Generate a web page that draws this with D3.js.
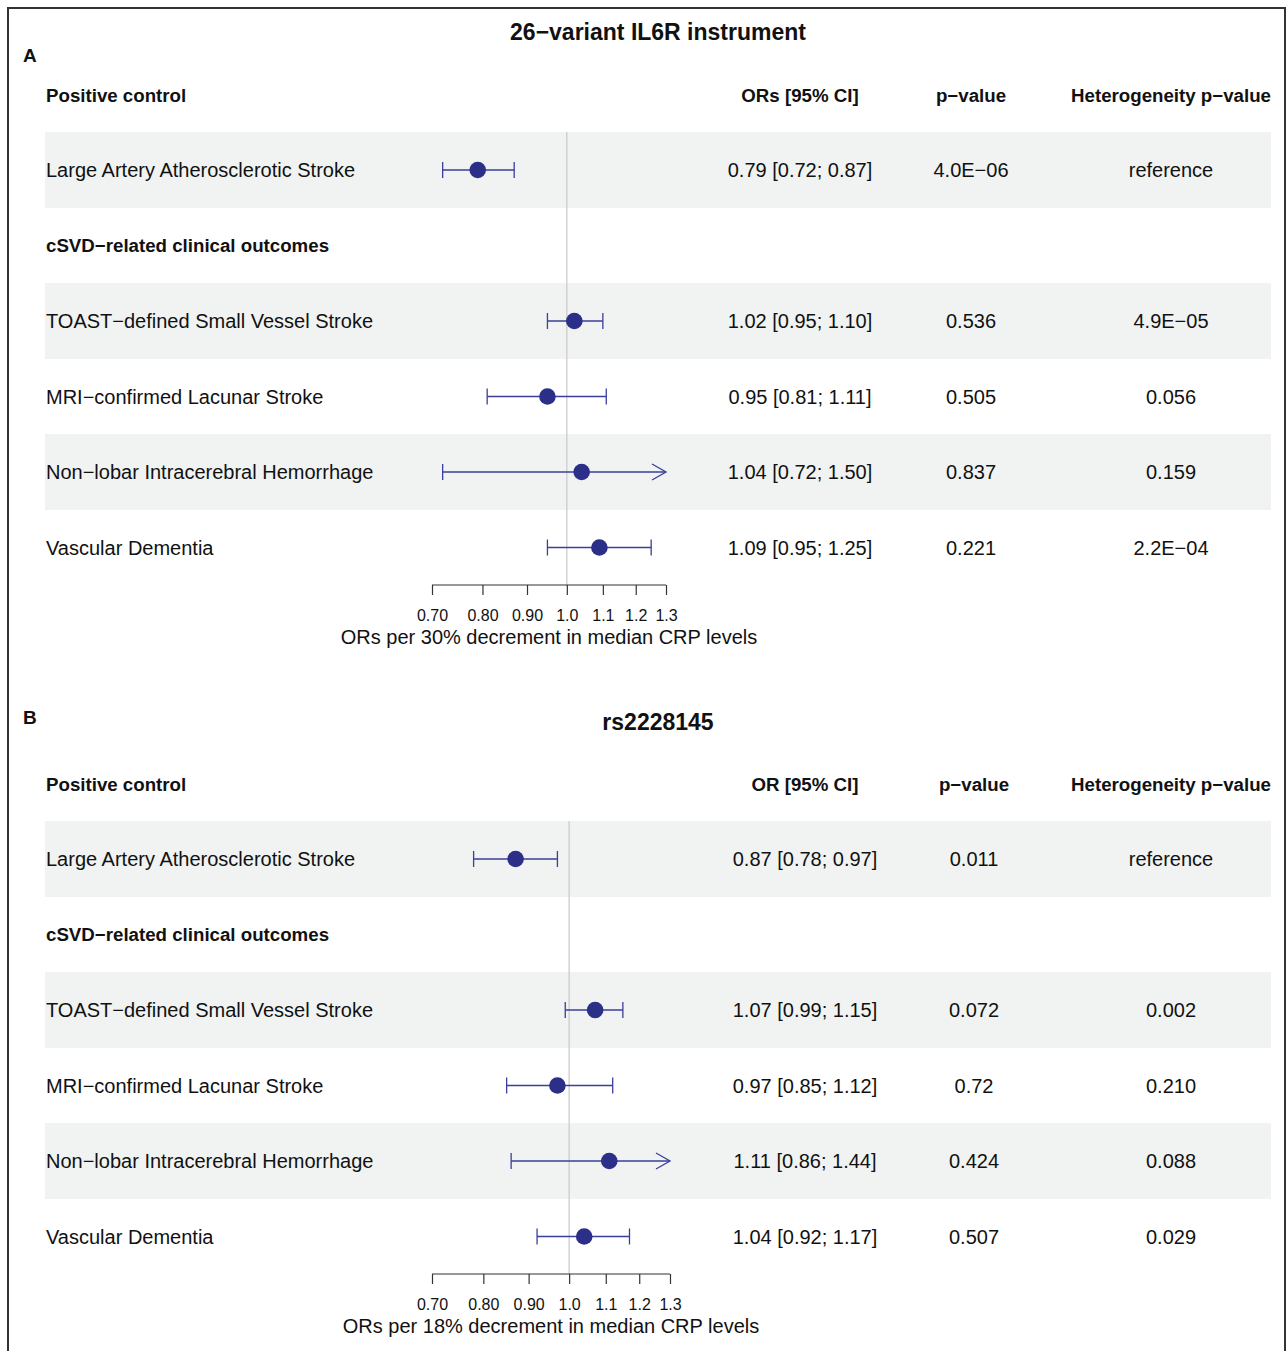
<!DOCTYPE html>
<html>
<head>
<meta charset="utf-8">
<script src="https://cdn.jsdelivr.net/npm/d3@7"></script>
<style>
  html, body { margin: 0; padding: 0; background: #fff; }
  svg text { font-family: "Liberation Sans", Arial, Helvetica, sans-serif; fill: #111; }
</style>
</head>
<body>
<script>
// Outcomes listed in each forest plot (heading rows carry no estimate)
const rowLabels = [
  "Large Artery Atherosclerotic Stroke",
  "cSVD\u2212related clinical outcomes",
  "TOAST\u2212defined Small Vessel Stroke",
  "MRI\u2212confirmed Lacunar Stroke",
  "Non\u2212lobar Intracerebral Hemorrhage",
  "Vascular Dementia"
];
const rowIsHeading = [false, true, false, false, false, false];

// Panel A: 26-variant IL6R instrument
const orA   = [0.79, null, 1.02, 0.95, 1.04, 1.09];
const loA   = [0.72, null, 0.95, 0.81, 0.72, 0.95];
const hiA   = [0.87, null, 1.10, 1.11, 1.50, 1.25];
const pA    = ["4.0E\u221206", "", "0.536", "0.505", "0.837", "0.221"];
const hetA  = ["reference", "", "4.9E\u221205", "0.056", "0.159", "2.2E\u221204"];

// Panel B: rs2228145
const orB   = [0.87, null, 1.07, 0.97, 1.11, 1.04];
const loB   = [0.78, null, 0.99, 0.85, 0.86, 0.92];
const hiB   = [0.97, null, 1.15, 1.12, 1.44, 1.17];
const pB    = ["0.011", "", "0.072", "0.72", "0.424", "0.507"];
const hetB  = ["reference", "", "0.002", "0.210", "0.088", "0.029"];

const tickValues = [0.70, 0.80, 0.90, 1.0, 1.1, 1.2, 1.3];
const tickLabels = ["0.70", "0.80", "0.90", "1.0", "1.1", "1.2", "1.3"];

const W = 1287, H = 1351;
const svg = d3.select("body").append("svg").attr("width", W).attr("height", H);

// outer frame
svg.append("rect").attr("x", 8).attr("y", 8).attr("width", 1277).attr("height", H + 10)
  .attr("fill", "none").attr("stroke", "#333").attr("stroke-width", 2);

const markColor = "#2b2f87";
const lineColor = "#3a3f9a";
const fmt = v => v.toFixed(2);
const fsBody = "20px", fsBold = "18.7px";

function drawPanel(cfg) {
  const g = svg.append("g").attr("transform", `translate(0,${cfg.offset})`);
  const x = d3.scaleLog().domain([0.70, 1.3]).range([432, cfg.axisRight]);
  const rowY = d3.scalePoint().domain(d3.range(rowLabels.length)).range([170, 170 + 75.5 * 5]);
  const bandH = 76;

  // title and panel letter
  g.append("text").attr("x", 658).attr("y", cfg.titleY).attr("text-anchor", "middle")
    .attr("dominant-baseline", "central").style("font-weight", "bold").style("font-size", "23px")
    .text(cfg.title);
  g.append("text").attr("x", cfg.letterX).attr("y", cfg.letterY)
    .attr("dominant-baseline", "central").style("font-weight", "bold").style("font-size", "19px")
    .text(cfg.letter);

  // column headers
  const hdr = g.append("g").style("font-weight", "bold").style("font-size", fsBold);
  hdr.append("text").attr("x", 46).attr("y", 95).attr("dominant-baseline", "central").text("Positive control");
  hdr.append("text").attr("x", cfg.orX).attr("y", 95).attr("text-anchor", "middle").attr("dominant-baseline", "central").text(cfg.orHeader);
  hdr.append("text").attr("x", cfg.pX).attr("y", 95).attr("text-anchor", "middle").attr("dominant-baseline", "central").text("p\u2212value");
  hdr.append("text").attr("x", 1171).attr("y", 95).attr("text-anchor", "middle").attr("dominant-baseline", "central").text("Heterogeneity p\u2212value");

  // shaded bands on alternating rows
  [0, 2, 4].forEach(i => {
    g.append("rect").attr("x", 45).attr("y", rowY(i) - bandH / 2).attr("width", 1226).attr("height", bandH)
      .attr("fill", "#f0f3f2");
  });

  // reference line at OR = 1
  g.append("line").attr("x1", x(1)).attr("x2", x(1))
    .attr("y1", rowY(0) - bandH / 2).attr("y2", 585)
    .attr("stroke", "#c8c8c8").attr("stroke-width", 1.2);

  // row labels and table cells
  rowLabels.forEach((lab, i) => {
    g.append("text").attr("x", 46).attr("y", rowY(i)).attr("dominant-baseline", "central")
      .style("font-size", rowIsHeading[i] ? fsBold : fsBody)
      .style("font-weight", rowIsHeading[i] ? "bold" : "normal")
      .text(lab);
    if (rowIsHeading[i]) return;
    const cells = [
      [cfg.orX, `${fmt(cfg.or[i])} [${fmt(cfg.lo[i])}; ${fmt(cfg.hi[i])}]`],
      [cfg.pX, cfg.p[i]],
      [1171, cfg.het[i]]
    ];
    cells.forEach(([cx, t]) => {
      g.append("text").attr("x", cx).attr("y", rowY(i)).attr("text-anchor", "middle")
        .attr("dominant-baseline", "central").style("font-size", fsBody).text(t);
    });
  });

  // confidence intervals and point estimates
  const [dMin, dMax] = x.domain();
  rowLabels.forEach((lab, i) => {
    if (cfg.or[i] == null) return;
    const y = rowY(i);
    const lo = Math.max(cfg.lo[i], dMin), hi = Math.min(cfg.hi[i], dMax);
    const cg = g.append("g").attr("stroke", lineColor).attr("stroke-width", 1.3).attr("fill", "none");
    cg.append("line").attr("x1", x(lo)).attr("x2", x(hi)).attr("y1", y).attr("y2", y);
    if (cfg.lo[i] >= dMin) {
      cg.append("line").attr("x1", x(lo)).attr("x2", x(lo)).attr("y1", y - 8).attr("y2", y + 8);
    } else {
      cg.append("path").attr("d", `M${x(lo) + 14},${y - 8}L${x(lo)},${y}L${x(lo) + 14},${y + 8}`);
    }
    if (cfg.hi[i] <= dMax) {
      cg.append("line").attr("x1", x(hi)).attr("x2", x(hi)).attr("y1", y - 8).attr("y2", y + 8);
    } else {
      cg.append("path").attr("d", `M${x(hi) - 14},${y - 8}L${x(hi)},${y}L${x(hi) - 14},${y + 8}`);
    }
    g.append("circle").attr("cx", x(cfg.or[i])).attr("cy", y).attr("r", 8.3).attr("fill", markColor);
  });

  // x axis
  const axis = d3.axisBottom(x).tickValues(tickValues).tickFormat((d, k) => tickLabels[k])
    .tickSize(10).tickSizeOuter(0).tickPadding(15);
  const ax = g.append("g").attr("transform", "translate(0,585)").call(axis);
  ax.attr("font-size", null).attr("font-family", null);
  ax.select(".domain").attr("stroke", "#333").attr("stroke-width", 1.2)
    .attr("d", `M${x(dMin)},0H${x(dMax)}`);
  ax.selectAll(".tick line").attr("stroke", "#333").attr("stroke-width", 1.2);
  ax.selectAll(".tick text").style("font-size", "16px").attr("fill", "#111");

  g.append("text").attr("x", (x(dMin) + x(dMax)) / 2).attr("y", 637)
    .attr("text-anchor", "middle").attr("dominant-baseline", "central").style("font-size", fsBody)
    .text(cfg.axisTitle);
}

drawPanel({
  offset: 0, title: "26\u2212variant IL6R instrument", titleY: 32, letter: "A", letterX: 23, letterY: 55,
  orHeader: "ORs [95% CI]", orX: 800, pX: 971, axisRight: 666,
  or: orA, lo: loA, hi: hiA, p: pA, het: hetA,
  axisTitle: "ORs per 30% decrement in median CRP levels"
});
drawPanel({
  offset: 689, title: "rs2228145", titleY: 33, letter: "B", letterX: 23, letterY: 28,
  orHeader: "OR [95% CI]", orX: 805, pX: 974, axisRight: 670,
  or: orB, lo: loB, hi: hiB, p: pB, het: hetB,
  axisTitle: "ORs per 18% decrement in median CRP levels"
});
</script>
</body>
</html>
